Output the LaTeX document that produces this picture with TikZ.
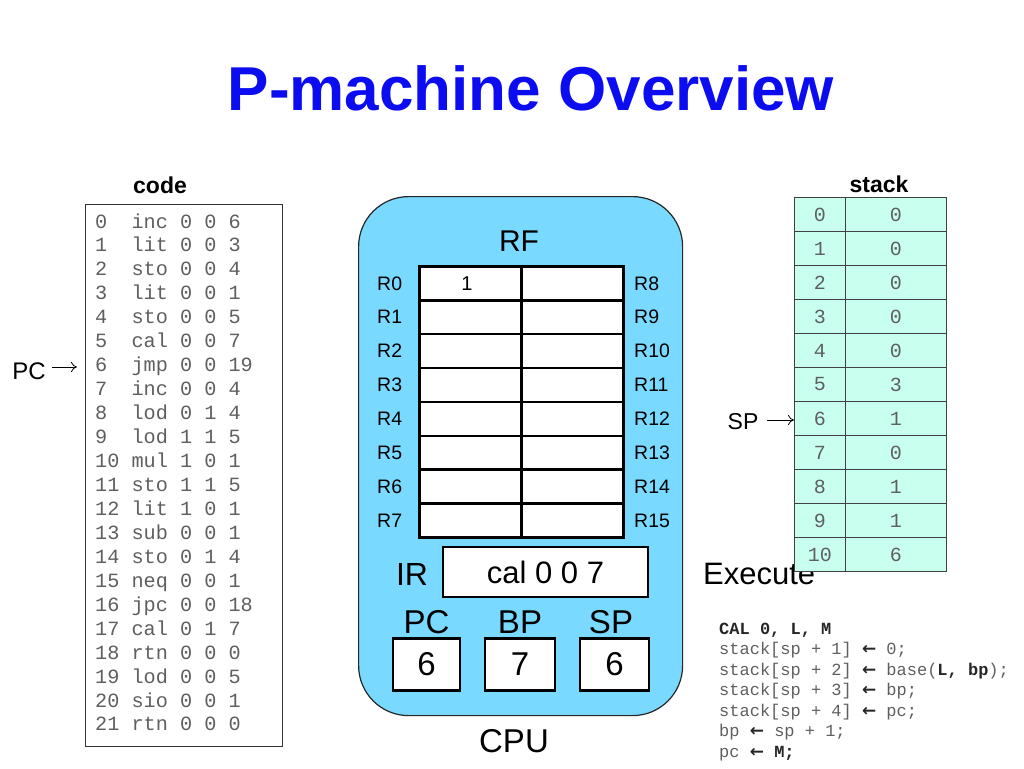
\documentclass[tikz,border=0pt]{standalone}
\usepackage{fontspec}
\setmainfont{Liberation Sans}
\setsansfont{Liberation Sans}
\setmonofont{Liberation Mono}
\newfontfamily\arrowfont{DejaVu Sans}
\usetikzlibrary{arrows.meta}
\definecolor{titleblue}{RGB}{12,12,240}
\definecolor{cpublue}{RGB}{122,217,255}
\definecolor{stackgreen}{RGB}{200,255,238}
\definecolor{codegray}{RGB}{95,95,95}
\newcommand\setfs[1]{\fontsize{#1}{#1}\selectfont}
\newcommand\larr{{\arrowfont\bfseries\color{black!85}←}}
\begin{document}
\begin{tikzpicture}[x=1pt,y=-1pt,
  txt/.style={inner sep=0pt, anchor=base},
  codeline/.style={inner sep=0pt, anchor=base west, font=\ttfamily\setfs{20.2}, text=codegray},
  calline/.style={inner sep=0pt, anchor=base west, font=\ttfamily\setfs{17}, text=codegray},
  regcell/.style={draw=black, line width=2.6pt, fill=white, minimum width=102pt, minimum height=33.9pt, inner sep=0pt, anchor=north west},
  reglabel/.style={inner sep=0pt, anchor=base west, font=\setfs{19.5}},
  valbox/.style={draw=black, line width=2.4pt, fill=white, inner sep=0pt, font=\setfs{33}},
  stkidx/.style={draw=black!75, line width=0.9pt, fill=stackgreen, minimum width=51pt, minimum height=34pt, inner sep=0pt, anchor=north west, font=\ttfamily\setfs{20}, text=codegray},
  stkval/.style={draw=black!75, line width=0.9pt, fill=stackgreen, minimum width=101pt, minimum height=34pt, inner sep=0pt, anchor=north west, font=\ttfamily\setfs{20}, text=codegray},
  ptr/.style={-{To[length=6pt,width=10pt]}, line width=0.8pt}
]
\useasboundingbox (0,0) rectangle (1024,768);
\fill[white] (0,0) rectangle (1024,768);

% title
\node[txt, font=\bfseries\setfs{62}, text=titleblue] (title) at (531,110) {P-machine Overview};

% code
\node[txt, font=\bfseries\setfs{23}] (codelab) at (160,193) {code};
\node[draw=black!80, line width=1.2pt, minimum width=197pt, minimum height=542pt, inner sep=0pt, anchor=north west] (codebox) at (85,204) {};
\foreach \t [count=\i from 0] in {%
  0~~inc~0~0~6, 1~~lit~0~0~3, 2~~sto~0~0~4, 3~~lit~0~0~1, 4~~sto~0~0~5,
  5~~cal~0~0~7, 6~~jmp~0~0~19, 7~~inc~0~0~4, 8~~lod~0~1~4, 9~~lod~1~1~5,
  10~mul~1~0~1, 11~sto~1~1~5, 12~lit~1~0~1, 13~sub~0~0~1, 14~sto~0~1~4,
  15~neq~0~0~1, 16~jpc~0~0~18, 17~cal~0~1~7, 18~rtn~0~0~0, 19~lod~0~0~5,
  20~sio~0~0~1, 21~rtn~0~0~0}
  \node[codeline] (c\i) at (95,{228+23.95*\i}) {\t};
\node[txt, font=\setfs{24}] (pclab) at (29,379) {PC};
\coordinate (pcstart) at (52,367);
\draw[ptr, shorten >=8pt] (pcstart) -- (codebox.west |- pcstart);

% CPU
\node[draw=black!85, line width=1.2pt, fill=cpublue, rounded corners=50pt, minimum width=324pt, minimum height=519pt, inner sep=0pt, anchor=north west] (cpu) at (358,196) {};
\node[txt, font=\setfs{30}] (rf) at (519,251) {RF};
\foreach \i in {0,...,7} {
  \node[regcell] (ra\i) at (418,{265+33.9*\i}) {};
  \node[regcell] (rb\i) at (520,{265+33.9*\i}) {};
  \node[reglabel] (la\i) at (377,{290+33.9*\i}) {R\i};
  \pgfmathtruncatemacro\j{\i+8}
  \node[reglabel] (lb\i) at (634,{290+33.9*\i}) {R\j};
}
\node[txt, font=\setfs{20}] (rzero) at (467,290) {1};

\node[txt, font=\setfs{32}] (irlab) at (412,585) {IR};
\node[valbox, minimum width=205pt, minimum height=50pt, font=\setfs{31}] (ir) at (545.5,572) {cal 0 0 7};

\node[txt, font=\setfs{33}] (pcl) at (426.5,633) {PC};
\node[txt, font=\setfs{33}] (bpl) at (520,633) {BP};
\node[txt, font=\setfs{33}] (spl) at (611,633) {SP};
\node[valbox, minimum width=67pt, minimum height=52pt] (pcv) at (426.5,664.5) {6};
\node[valbox, minimum width=70pt, minimum height=52pt] (bpv) at (520,664.5) {7};
\node[valbox, minimum width=69pt, minimum height=52pt] (spv) at (614.5,664.5) {6};

\node[txt, font=\setfs{33}] (cpulab) at (514,752) {CPU};

% Execute (partly under the stack)
\node[txt, anchor=base west, font=\setfs{31}] (exec) at (703,584) {Execute};

% stack
\node[txt, font=\bfseries\setfs{23}] (stacklab) at (879,192) {stack};
\foreach \v [count=\i from 0] in {0,0,0,0,0,3,1,0,1,1,6} {
  \node[stkidx] (s\i) at (794,{197+34*\i}) {\i};
  \node[stkval] (v\i) at (845,{197+34*\i}) {\v};
}
\node[txt, font=\setfs{23}] (splab) at (743,429) {SP};
\coordinate (spstart) at (767,420);
\draw[ptr] (spstart) -- (s6.west |- spstart);

% CAL semantics
\node[calline, font=\ttfamily\bfseries\setfs{17}, text=black!85] (k0) at (719,634) {CAL~0,~L,~M};
\node[calline] (k1) at (719,654.5) {stack[sp~+~1]~\larr~0;};
\node[calline] (k2) at (719,675) {stack[sp~+~2]~\larr~base(\textbf{\color{black!85}L,~bp});};
\node[calline] (k3) at (719,695.5) {stack[sp~+~3]~\larr~bp;};
\node[calline] (k4) at (719,716) {stack[sp~+~4]~\larr~pc;};
\node[calline] (k5) at (719,736.5) {bp~\larr~sp~+~1;};
\node[calline] (k6) at (719,757) {pc~\larr~\textbf{\color{black!85}M;}};
\end{tikzpicture}
\end{document}
